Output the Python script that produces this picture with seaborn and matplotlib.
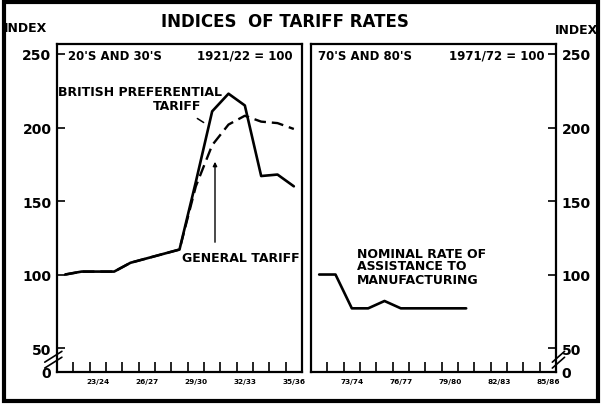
import numpy as np
import pandas as pd
import matplotlib.pyplot as plt
import matplotlib.patches as patches
import seaborn as sns

# ---------------- data ----------------
years_early = ["21/22", "22/23", "23/24", "24/25", "25/26", "26/27", "27/28", "28/29",
               "29/30", "30/31", "31/32", "32/33", "33/34", "34/35", "35/36"]
preferential = [100, 102, 102, 102, 108, 111, 114, 117, 163, 211, 223, 215, 167, 168, 160]
general = [100, 102, 102, 102, 108, 111, 114, 117, 160, 188, 202, 208, 204, 203, 199]

years_late = ["71/72", "72/73", "73/74", "74/75", "75/76", "76/77", "77/78", "78/79",
              "79/80", "80/81", "81/82", "82/83", "83/84", "84/85", "85/86"]
nominal = [100, 100, 77, 77, 82, 77, 77, 77, 77, 77]

ytick_vals = [50, 100, 150, 200, 250]

# ---------------- style ----------------
sns.set_style("white")
plt.rcParams["font.family"] = ["DejaVu Sans"]
plt.rcParams["font.weight"] = "bold"
plt.rcParams["text.color"] = "black"
plt.rcParams["xtick.color"] = "black"
plt.rcParams["ytick.color"] = "black"
plt.rcParams["axes.labelcolor"] = "black"

W, H = 602, 406
fig = plt.figure(figsize=(W / 100, H / 100), dpi=100)

def fx(px):
    return px / W

def fy(py):
    return 1 - py / H

ylo, yhi = 33.7, 256.8
ax_l = fig.add_axes([fx(57), fy(373), fx(245), (373 - 45) / H])
ax_r = fig.add_axes([fx(311), fy(373), fx(245), (373 - 45) / H])

df_early = pd.DataFrame({"x": np.arange(len(years_early)) + 0.5,
                         "pref": preferential, "gen": general})
df_late = pd.DataFrame({"x": np.arange(len(nominal)) + 0.5, "nom": nominal})

sns.lineplot(data=df_early, x="x", y="pref", ax=ax_l, color="black", lw=1.9)
sns.lineplot(data=df_early, x="x", y="gen", ax=ax_l, color="black", lw=1.7,
             linestyle=(0, (5, 2.5)))
sns.lineplot(data=df_late, x="x", y="nom", ax=ax_r, color="black", lw=1.9)

for ax, labels in [(ax_l, years_early), (ax_r, years_late)]:
    n = len(labels)
    ax.set_xlim(0, n)
    ax.set_ylim(ylo, yhi)
    ax.set_xlabel("")
    ax.set_ylabel("")
    for s in ax.spines.values():
        s.set_linewidth(1.6)
        s.set_color("black")
    ax.set_xticks(np.arange(1, n))
    ax.set_xticklabels([])
    lab_idx = [2, 5, 8, 11, 14]
    ax.set_xticks([i + 0.5 for i in lab_idx], [labels[i] for i in lab_idx], minor=True)
    ax.tick_params(axis="x", which="major", direction="in", length=7, width=1.2,
                   bottom=True, color="black")
    ax.tick_params(axis="x", which="minor", length=0, pad=4, labelsize=5.3,
                   labelcolor="black")
    ax.set_yticks([ylo] + ytick_vals, ["0"] + [str(v) for v in ytick_vals])
    ax.set_facecolor("white")

ax_l.tick_params(axis="y", direction="in", length=6, width=1.2, left=True,
                 labelsize=10, pad=4, color="black", labelcolor="black")
ax_r.yaxis.tick_right()
ax_r.tick_params(axis="y", direction="in", length=6, width=1.2, right=True, left=False,
                 labelright=True, labelleft=False, labelsize=10, pad=4,
                 color="black", labelcolor="black")
for ax in (ax_l, ax_r):
    for t in ax.get_xticklabels(minor=True) + ax.get_yticklabels():
        t.set_fontweight("bold")

# axis break marks
for dy in (0.0, 0.018):
    ax_l.plot([-0.05, 0.02], [0.012 + dy, 0.045 + dy], transform=ax_l.transAxes,
              color="black", lw=1.2, clip_on=False)
    ax_r.plot([0.985, 1.035], [0.012 + dy, 0.045 + dy], transform=ax_r.transAxes,
              color="black", lw=1.2, clip_on=False)

# panel headings
hs = 8.5
ax_l.text(0.045, 0.965, "20'S AND 30'S", transform=ax_l.transAxes, fontsize=hs,
          fontweight="bold", va="center", ha="left")
ax_l.text(0.96, 0.965, "1921/22 = 100", transform=ax_l.transAxes, fontsize=hs,
          fontweight="bold", va="center", ha="right")
ax_r.text(0.03, 0.965, "70'S AND 80'S", transform=ax_r.transAxes, fontsize=hs,
          fontweight="bold", va="center", ha="left")
ax_r.text(0.955, 0.965, "1971/72 = 100", transform=ax_r.transAxes, fontsize=hs,
          fontweight="bold", va="center", ha="right")

# annotations
fs = 9
fig.text(fx(58), fy(93), "BRITISH PREFERENTIAL", fontsize=fs, fontweight="bold",
         va="center", ha="left")
fig.text(fx(153), fy(107), "TARIFF", fontsize=fs, fontweight="bold",
         va="center", ha="left")
ax_l.annotate("", xy=(fx(206), fy(125)), xycoords="figure fraction",
              xytext=(fx(195), fy(118)), textcoords="figure fraction",
              arrowprops=dict(arrowstyle="-", color="black", lw=1.1))
fig.text(fx(182), fy(258), "GENERAL TARIFF", fontsize=fs, fontweight="bold",
         va="center", ha="left")
ax_l.annotate("", xy=(fx(215), fy(160)), xycoords="figure fraction",
              xytext=(fx(215), fy(246)), textcoords="figure fraction",
              arrowprops=dict(arrowstyle="-|>", color="black", lw=1.0,
                              mutation_scale=6))
fig.text(fx(357), fy(267), "NOMINAL RATE OF\nASSISTANCE TO\nMANUFACTURING",
         fontsize=fs, fontweight="bold", va="center", ha="left", linespacing=1.0)

# titles
fig.text(fx(285), fy(22), "INDICES  OF TARIFF RATES", fontsize=12, fontweight="bold",
         va="center", ha="center")
fig.text(fx(4), fy(29), "INDEX", fontsize=9, fontweight="bold", va="center", ha="left")
fig.text(fx(598), fy(31), "INDEX", fontsize=9, fontweight="bold", va="center", ha="right")

# outer frame
fig.patches.append(patches.Rectangle((fx(4), fy(402)), fx(594), (402 - 3) / H,
                                     transform=fig.transFigure, fill=False,
                                     edgecolor="black", lw=3))

fig.savefig("out.png", dpi=100)
